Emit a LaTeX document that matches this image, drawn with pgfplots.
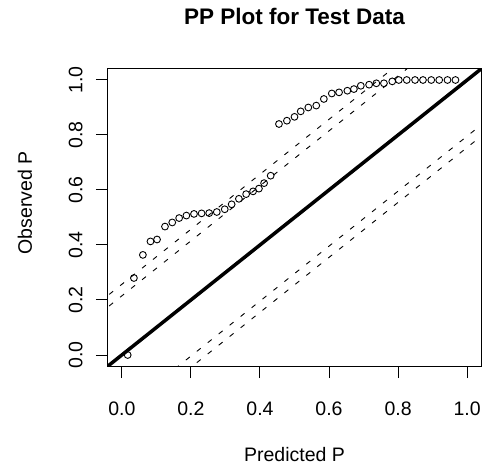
\documentclass[border=0pt]{standalone}
\usepackage{fontspec}
\setmainfont{Liberation Sans}
\usepackage{pgfplots}
\pgfplotsset{compat=1.18}

% Predicted vs. observed cumulative probabilities
\pgfplotstableread{
x      y
0.017  0.000
0.035  0.280
0.061  0.364
0.083  0.413
0.102  0.420
0.125  0.467
0.146  0.482
0.166  0.498
0.187  0.507
0.209  0.513
0.231  0.515
0.253  0.516
0.275  0.520
0.298  0.530
0.318  0.548
0.339  0.568
0.360  0.585
0.380  0.595
0.397  0.605
0.412  0.625
0.431  0.652
0.455  0.840
0.478  0.852
0.500  0.866
0.518  0.886
0.540  0.900
0.563  0.907
0.585  0.931
0.608  0.951
0.629  0.955
0.653  0.961
0.672  0.967
0.692  0.979
0.716  0.983
0.737  0.988
0.759  0.988
0.783  0.995
0.802  1.000
0.825  1.000
0.849  1.000
0.872  1.000
0.896  1.000
0.919  1.000
0.943  1.000
0.966  1.000
}\ppdata

\begin{document}
\begin{tikzpicture}
\path[use as bounding box] (-108bp,-103bp) rectangle (374bp,366bp);
\begin{axis}[
  at={(0,0)}, anchor=south west,
  scale only axis, width=373bp, height=297bp,
  xmin=-0.04, xmax=1.04, ymin=-0.04, ymax=1.04,
  axis line style={line width=1bp, black},
  xtick={0,0.2,0.4,0.6,0.8,1}, ytick={0,0.2,0.4,0.6,0.8,1},
  tick pos=left, tick align=outside,
  major tick length=12bp,
  tick style={line width=1bp, black},
  /pgf/number format/assume math mode=true,
  /pgf/number format/fixed,
  /pgf/number format/fixed zerofill,
  /pgf/number format/precision=1,
  tick label style={font=\fontsize{19.5bp}{23bp}\selectfont},
  yticklabel style={rotate=90, anchor=south},
  xticklabel shift=20bp, yticklabel shift=10bp,
  title={PP Plot for Test Data},
  title style={font=\bfseries\fontsize{22.5bp}{26bp}\selectfont,
    at={(axis description cs:0.5,1.158)}, anchor=center},
  xlabel={Predicted P},
  xlabel style={font=\fontsize{19.5bp}{23bp}\selectfont,
    at={(axis description cs:0.5,-0.2997)}, anchor=center},
  ylabel={Observed P},
  ylabel style={font=\fontsize{19.5bp}{23bp}\selectfont,
    at={(axis description cs:-0.2225,0.549)}, anchor=center},
]
% reference diagonal
\addplot[black, line width=3.5bp] coordinates {(-0.1,-0.1) (1.1,1.1)};
% confidence bands around the diagonal
\addplot[black, line width=0.9bp, dash pattern=on 5bp off 9bp] coordinates {(-0.1,0.115) (1.1,1.315)};
\addplot[black, line width=0.9bp, dash pattern=on 5bp off 9bp] coordinates {(-0.1,0.157) (1.1,1.357)};
\addplot[black, line width=0.9bp, dash pattern=on 5bp off 9bp] coordinates {(-0.1,-0.304) (1.1,0.896)};
\addplot[black, line width=0.9bp, dash pattern=on 5bp off 9bp] coordinates {(-0.1,-0.345) (1.1,0.855)};
% observed points
\addplot[only marks, mark=o, mark size=3.4bp,
  mark options={line width=0.9bp, black}] table[x=x, y=y] {\ppdata};
\end{axis}
\end{tikzpicture}
\end{document}
